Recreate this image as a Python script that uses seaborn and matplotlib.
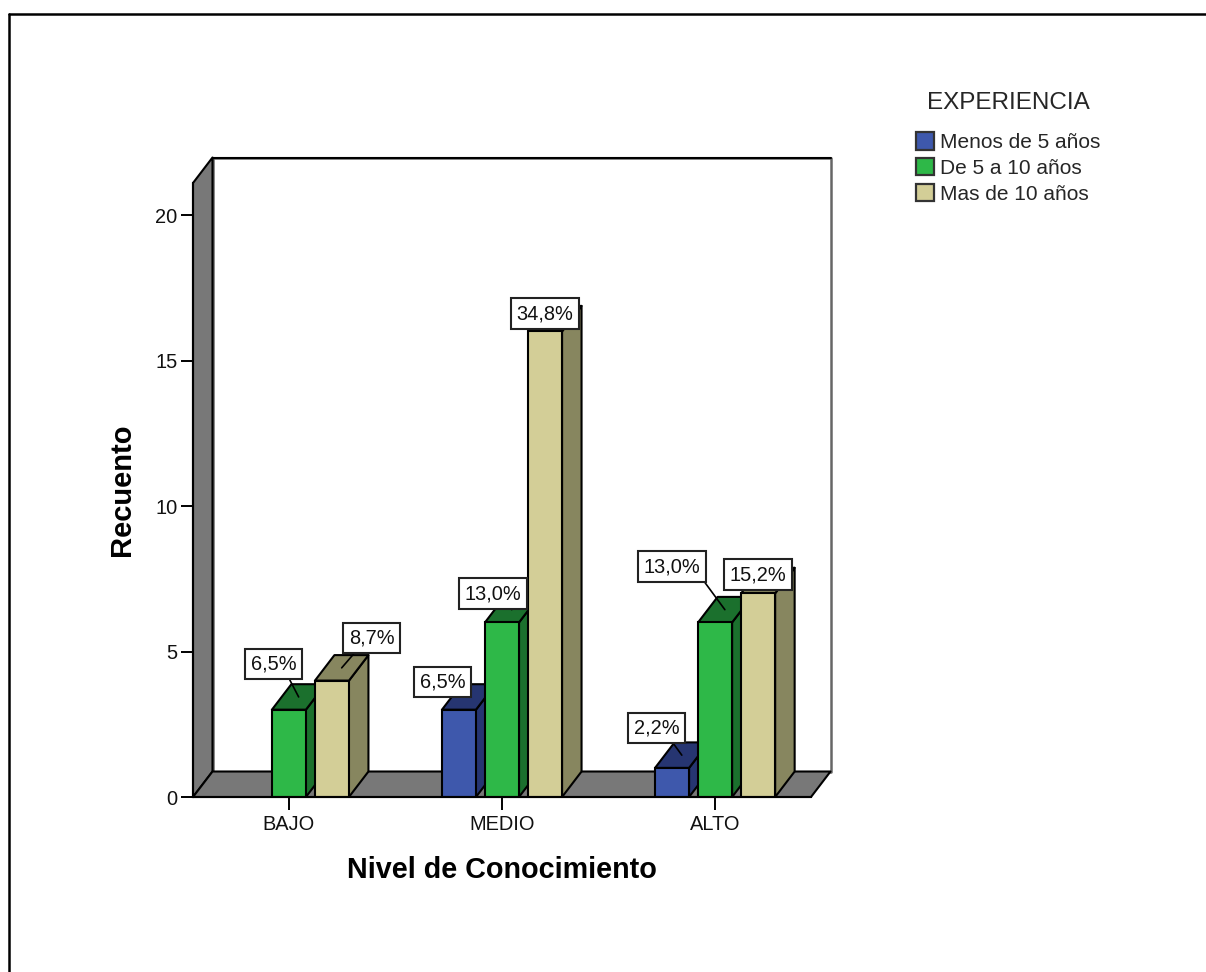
import matplotlib
matplotlib.use("Agg")
import matplotlib.pyplot as plt
import pandas as pd
import seaborn as sns
from matplotlib.lines import Line2D
from matplotlib.patches import Polygon
from matplotlib.transforms import IdentityTransform

# Survey counts by knowledge level and years of experience
levels = ["BAJO", "MEDIO", "ALTO"]
experience = ["Menos de 5 años", "De 5 a 10 años", "Mas de 10 años"]
menos_5 = [0, 3, 1]
de_5_a_10 = [3, 6, 6]
mas_10 = [4, 16, 7]

front_colors = ["#3E58AC", "#2EB848", "#D3CE97"]
shade_colors = ["#263571", "#1B702D", "#87865F"]

# Label box offsets in pixels from the centre of each bar's top face
label_offsets = [
    [None, (-26, 15), (-25, 27)],
    [(-25, 33), (-19, 16), (-53, 43)],
    [(30, 30), (-10, 5), (-10, 6)],
]
# Where each leader line leaves its label box (box-relative position)
leader_starts = [
    [None, (0.5, 0.5), (0.77, 0)],
    [(0.78, 0), (0.5, 0.5), (1, 0)],
    [(0.23, 0), (0.5, 0.5), (0.5, 0.5)],
]

W, H = 1206, 972
DEPTH = (19.5, 25.5)
GRAY = "#787878"
EDGE_LW = 1.5

df = pd.DataFrame({
    "nivel": levels * 3,
    "exp": [e for e in experience for _ in levels],
    "n": menos_5 + de_5_a_10 + mas_10,
})
total = df["n"].sum()

sns.set_theme(style="white")
plt.rcParams["font.family"] = ["Liberation Sans", "DejaVu Sans"]

fig = plt.figure(figsize=(W / 100, H / 100), dpi=100, facecolor="white")
ax = fig.add_axes([193 / W, 1 - 797 / H, 618 / W, 614 / H])
sns.barplot(
    data=df, x="nivel", y="n", hue="exp", order=levels, hue_order=experience,
    palette=front_colors, width=0.606, gap=0.21, saturation=1,
    errorbar=None, ax=ax, edgecolor="black", linewidth=EDGE_LW,
)
ax.set_xlim(-0.45, 2.45)
ax.set_ylim(0, 21.1)
ax.set_yticks([0, 5, 10, 15, 20])
ax.patch.set_alpha(0)

fig.canvas.draw()
to_px = ax.transData.transform
px = IdentityTransform()


def poly(points, face, z, edge="black", lw=EDGE_LW):
    ax.add_patch(Polygon(points, closed=True, facecolor=face, edgecolor=edge,
                         linewidth=lw, transform=px, clip_on=False, zorder=z,
                         joinstyle="round"))


# Box walls: back panel, left panel, floor
(x0, y0), (x1, y1) = ax.transAxes.transform([(0, 0), (1, 1)])
dx, dy = DEPTH
poly([(x0 + dx, y0 + dy), (x1 + dx, y0 + dy), (x1 + dx, y1 + dy), (x0 + dx, y1 + dy)],
     "white", 0.2, edge="#666666", lw=1.8)
ax.add_line(Line2D([x0 + dx, x1 + dx], [y1 + dy, y1 + dy], color="black", lw=1.5,
                   transform=px, clip_on=False, zorder=0.3))
poly([(x0, y0), (x0 + dx, y0 + dy), (x0 + dx, y1 + dy), (x0, y1)], GRAY, 0.4)
poly([(x0, y0), (x1, y0), (x1 + dx, y0 + dy), (x0 + dx, y0 + dy)], GRAY, 0.4)

# Side and top faces for every bar, plus a connected value label
for i, container in enumerate(ax.containers):
    for j, bar in enumerate(container):
        z = 3 + i
        bar.set_zorder(z)
        if bar.get_height() == 0:
            bar.set_visible(False)
            continue
        (bx0, by0) = to_px((bar.get_x(), 0))
        (bx1, by1) = to_px((bar.get_x() + bar.get_width(), bar.get_height()))
        poly([(bx1, by0), (bx1 + dx, by0 + dy), (bx1 + dx, by1 + dy), (bx1, by1)],
             shade_colors[i], z - 0.5)
        poly([(bx0, by1), (bx1, by1), (bx1 + dx, by1 + dy), (bx0 + dx, by1 + dy)],
             shade_colors[i], z - 0.5)
        pct = f"{bar.get_height() / total * 100:.1f}".replace(".", ",") + "%"
        face_centre = ((bx0 + bx1 + dx) / 2, by1 + dy / 2)
        ax.annotate(
            pct, xy=face_centre, xycoords=px,
            xytext=label_offsets[i][j], textcoords="offset pixels",
            ha="center", va="center", fontsize=14.4, color="#111111", zorder=10,
            bbox=dict(boxstyle="square,pad=0.29", fc="white", ec="#222222", lw=1.5),
            arrowprops=dict(arrowstyle="-", color="black", lw=1.2,
                            shrinkA=0, shrinkB=0, relpos=leader_starts[i][j]),
        )

# Axes and ticks
for side in ("top", "right"):
    ax.spines[side].set_visible(False)
for side in ("left", "bottom"):
    ax.spines[side].set_linewidth(1.5)
    ax.spines[side].set_color("black")
    ax.spines[side].set_zorder(8)
ax.tick_params(axis="both", length=9, width=1.4, color="black", left=True, bottom=True,
               labelsize=14.4, labelcolor="#111111", pad=2)
ax.tick_params(axis="x", pad=4)
ax.set_xlabel("Nivel de Conocimiento", fontsize=20.7, fontweight="bold", color="black", labelpad=16)
ax.set_ylabel("Recuento", fontsize=21, fontweight="bold", color="black", labelpad=14)

# Legend in the top right corner
sns.move_legend(
    ax, "upper left", bbox_to_anchor=(897 / W, 1 - 73 / H), bbox_transform=fig.transFigure,
    frameon=False, title="EXPERIENCIA", title_fontsize=17.5, fontsize=15,
    handlelength=0.88, handleheight=0.9, handletextpad=0.3, labelspacing=0.28,
    borderpad=0.4,
)
leg = ax.get_legend()
for handle in leg.get_patches():
    handle.set_edgecolor("#333333")
    handle.set_linewidth(1.6)
leg._legend_box.sep = 13.5

# Outer frame around the chart area
frame = dict(color="black", lw=1.8, transform=fig.transFigure)
fig.add_artist(Line2D([9 / W, 9 / W], [0, 1 - 14 / H], **frame))
fig.add_artist(Line2D([9 / W, 1], [1 - 14 / H, 1 - 14 / H], **frame))

fig.savefig("out.png", dpi=100, facecolor="white")
